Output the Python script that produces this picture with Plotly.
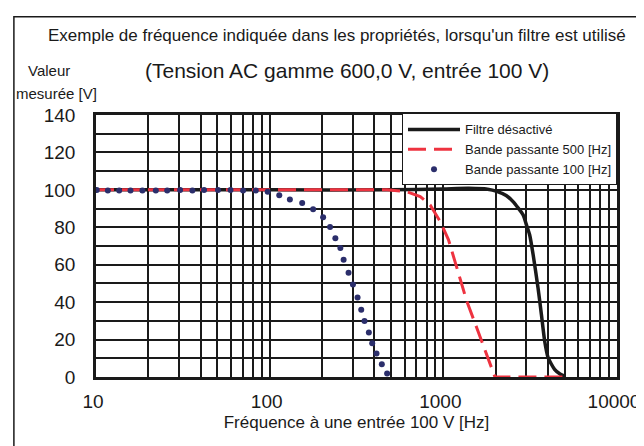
import plotly.graph_objects as go

# Courbe "Filtre désactivé" (fréquence en Hz, valeur mesurée en V)
freq_off = [10, 100, 500, 1000, 1400, 1800, 2030, 2300, 2520, 2880, 3010, 3140, 3290, 3510, 3670, 3830, 4010, 4370, 4700, 4990]
val_off = [100, 100, 100, 100.5, 100.8, 100.3, 99.2, 97, 93.7, 86.6, 81.3, 76, 65.3, 47.6, 33.4, 19.4, 10.4, 4.1, 1.6, 0.5]

# Courbe "Bande passante 500 [Hz]"
freq_500 = [10, 100, 474, 617, 736, 840, 959, 1071, 1195, 1365, 1557, 1775, 1983, 2300, 3500, 4900]
val_500 = [100, 100, 100, 99, 96.4, 91.9, 83.1, 73.3, 59, 40.5, 26.3, 12.1, 0, 0, 0, 0]

# Courbe "Bande passante 100 [Hz]" (points)
freq_100 = [10.1, 11.7, 13.6, 15.8, 18.5, 22.1, 25.7, 30.5, 35.9, 41.9, 50.4, 59.5, 70.3, 83.2,
            97.4, 113.6, 130.7, 153.9, 177.9, 203.1, 222.7, 238.9, 255.3, 266.6, 284.6, 301.7,
            320.7, 336.7, 351.6, 372.5, 389.4, 412.2, 442.4, 474.5]
val_100 = [99.9, 99.6, 99.6, 99.6, 99.6, 99.6, 99.7, 99.9, 99.7, 99.9, 99.9, 99.9, 99.7, 99.7,
           99.0, 97.1, 94.9, 93.0, 89.6, 85.4, 80.2, 74.2, 68.9, 62.7, 55.7, 49.4,
           42.5, 35.9, 29.9, 23.8, 18.0, 12.5, 6.8, 1.9]

# Graduations
x_ticks = [10, 100, 1000, 10000]
y_ticks = [0, 20, 40, 60, 80, 100, 120, 140]

W, H = 644, 446
L, R, T, B = 87.5, 33, 106.5, 76.5
PW, PH = W - L - R, H - T - B

# conversion pixels -> coordonnées "paper"
def px(x):
    return (x - L) / PW

def py(y):
    return (H - B - y) / PH

police = "Liberation Sans, Arial, sans-serif"
noir = "#1a1a1a"

fig = go.Figure()
fig.add_trace(go.Scatter(x=freq_off, y=val_off, mode="lines", name="Filtre désactivé",
                         line=dict(color="#1a1a1a", width=3.5, shape="spline", smoothing=0.6)))
fig.add_trace(go.Scatter(x=freq_500, y=val_500, mode="lines", name="Bande passante 500 [Hz]",
                         line=dict(color="#ee3340", width=3, dash="18px,8px")))
fig.add_trace(go.Scatter(x=freq_100, y=val_100, mode="markers", name="Bande passante 100 [Hz]",
                         marker=dict(color="#2b2e6b", size=6)))

minor_x = [m * d for d in (10, 100, 1000) for m in range(2, 10)]

def note(texte, x, y, taille):
    return dict(text=texte, x=px(x), y=py(y), xref="paper", yref="paper", showarrow=False,
                xanchor="center", yanchor="middle", font=dict(size=taille))

fig.update_layout(
    width=W, height=H,
    margin=dict(l=L, r=R, t=T, b=B),
    paper_bgcolor="white", plot_bgcolor="white",
    font=dict(family=police, color=noir),
    showlegend=True,
    legend=dict(x=1, xanchor="right", y=1.006, yanchor="top", bgcolor="white",
                bordercolor=noir, borderwidth=1, font=dict(size=13), tracegroupgap=0,
                itemwidth=52),
    xaxis=dict(type="log", range=[1, 4], tickvals=x_ticks, ticktext=[str(v) for v in x_ticks],
               showgrid=True, gridcolor=noir, gridwidth=1.5,
               minor=dict(tickvals=minor_x, showgrid=True, gridcolor=noir, gridwidth=1.5),
               showline=True, linecolor=noir, linewidth=2.5, mirror=True,
               ticks="", ticklabelstandoff=5, ticklabelshift=-3, tickfont=dict(size=19),
               title=dict(text="Fréquence à une entrée 100 V [Hz]", font=dict(size=17), standoff=6),
               zeroline=False),
    yaxis=dict(range=[0, 140], tickvals=y_ticks, showgrid=True, gridcolor=noir, gridwidth=1.5,
               minor=dict(dtick=10, showgrid=True, gridcolor=noir, gridwidth=1.5),
               showline=True, linecolor=noir, linewidth=2.5, mirror=True,
               ticks="", ticklabelstandoff=14, tickfont=dict(size=19), zeroline=False),
    annotations=[
        note("Exemple de fréquence indiquée dans les propriétés, lorsqu'un filtre est utilisé", 330, 27, 17),
        note("(Tension AC gamme 600,0 V, entrée 100 V)", 340, 62, 21),
        note("Valeur", 40, 62, 15),
        note("mesurée [V]", 48, 85, 15),
    ],
    shapes=[
        dict(type="rect", xref="paper", yref="paper", x0=px(5), x1=px(640), y0=py(460), y1=py(8),
             line=dict(color=noir, width=1.5), layer="below"),
    ],
)

fig.write_html("out.html")
